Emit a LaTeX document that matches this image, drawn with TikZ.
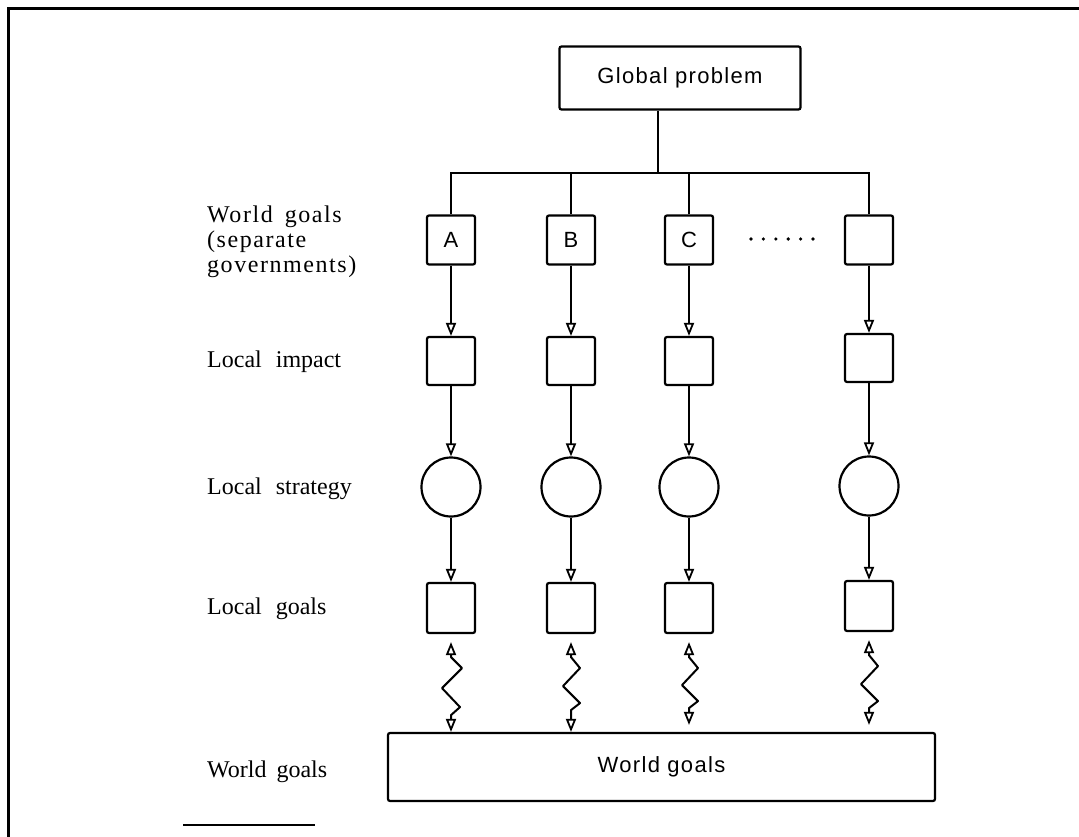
\documentclass[tikz,border=0pt]{standalone}
\usepackage{fontspec}
\setmainfont{Liberation Serif}
\newfontfamily\boxfont{Liberation Sans}[LetterSpace=6]
\newfontfamily\lblfont{Liberation Serif}
\newfontfamily\lblwide{Liberation Serif}[LetterSpace=6.5]
\usetikzlibrary{arrows.meta,calc}

\tikzset{
  box/.style={draw, line width=2.2pt, rounded corners=2pt, minimum width=48pt,
    minimum height=49pt, inner sep=0pt, font=\boxfont\fontsize{22}{26}\selectfont},
  strat/.style={draw, circle, line width=2.2pt, minimum size=59pt, inner sep=0pt},
  tip/.tip={Triangle[open,length=13pt,width=10pt,line width=1.8pt]},
  flow/.style={line width=2pt, -tip},
  twoway/.style={line width=2pt, line join=round, tip-tip},
  link/.style={line width=2pt},
  rowlabel/.style={anchor=base west, inner sep=0pt, font=\lblfont\fontsize{24}{25}\selectfont},
}

\begin{document}
\begin{tikzpicture}[x=1pt, y=-1pt]
\useasboundingbox (0,0) rectangle (1079,837);

% page frame (left and top rules)
\draw[line width=3pt] (8,837) -- (8,9) -- (1079,9);

% top of the hierarchy
\node[box, minimum width=241pt, minimum height=63pt] (gp) at (680,78) {Global problem};

% separate governments' world goals
\node[box] (tA) at (451,240) {A};
\node[box] (tB) at (571,240) {B};
\node[box] (tC) at (689,240) {C};
\node[box] (tD) at (869,240) {};
\foreach \k in {0,...,5} \fill (751+12.4*\k,239) circle (1.8pt);

% branching lines
\coordinate (hub) at (658,173);
\draw[link] (gp.south -| hub) -- (hub);
\draw[link] (tA.north) |- (hub) -| (tD.north);
\draw[link] (tB.north) -- (tB.north |- hub);
\draw[link] (tC.north) -- (tC.north |- hub);

% local impact
\node[box, minimum height=48pt] (iA) at (451,361) {};
\node[box, minimum height=48pt] (iB) at (571,361) {};
\node[box, minimum height=48pt] (iC) at (689,361) {};
\node[box, minimum height=48pt] (iD) at (869,358) {};

% local strategy
\node[strat] (sA) at (451,487) {};
\node[strat] (sB) at (571,487) {};
\node[strat] (sC) at (689,487) {};
\node[strat] (sD) at (869,486) {};

% local goals
\node[box, minimum height=50pt] (lA) at (451,608) {};
\node[box, minimum height=50pt] (lB) at (571,608) {};
\node[box, minimum height=50pt] (lC) at (689,608) {};
\node[box, minimum height=50pt] (lD) at (869,606) {};

% world goals
\node[box, minimum width=547pt, minimum height=68pt] (wg) at (661.5,767) {World goals};

% downward flow in each column
\foreach \c in {A,B,C,D} {
  \draw[flow] (t\c) -- (i\c);
  \draw[flow] (i\c) -- (s\c);
  \draw[flow] (s\c) -- (l\c);
}

% two-way zigzag links between local goals and world goals
\draw[twoway] ($(lA.south)+(0,8)$) -- ++(0,15) -- ++(11,11) -- ++(-20,20)
  -- ++(18,19) -- ++(-9,8) -- (lA.south |- wg.north);
\draw[twoway] ($(lB.south)+(0,8)$) -- ++(0,15) -- ++(9,11) -- ++(-17,18)
  -- ++(17,17) -- ++(-9,7) -- (lB.south |- wg.north);
\draw[twoway] ($(lC.south)+(0,8)$) -- ++(0,15) -- ++(9,11) -- ++(-16,17)
  -- ++(16,16) -- ++(-9,7) -- ($(lC.south |- wg.north)+(0,-7)$);
\draw[twoway] ($(lD.south)+(0,8)$) -- ++(0,15) -- ++(9,11) -- ++(-17,18)
  -- ++(17,17) -- ++(-9,7) -- ($(lD.south |- wg.north)+(0,-7)$);

% row labels
\node[rowlabel, font=\lblwide\fontsize{24}{25}\selectfont, align=left, anchor=west]
  (rw) at (207,242) {World\hspace{12pt}goals\\(separate\\governments)};
\node[rowlabel] (ri) at (207,367) {Local\hspace{14pt}impact};
\node[rowlabel] (rs) at (207,494) {Local\hspace{14pt}strategy};
\node[rowlabel] (rl) at (207,614) {Local\hspace{14pt}goals};
\node[rowlabel] (rg) at (207,777) {World\hspace{10pt}goals};
\draw[line width=1.8pt] (183,825) -- (315,825);
\end{tikzpicture}
\end{document}
